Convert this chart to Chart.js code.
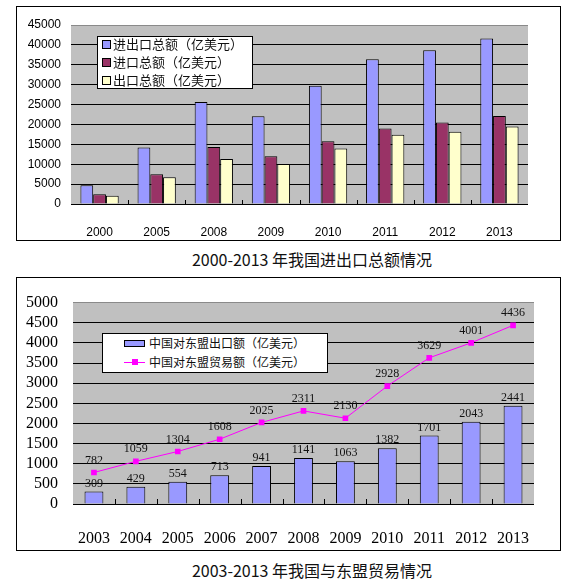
<!DOCTYPE html>
<html>
<head>
<meta charset="utf-8">
<title>进出口与东盟贸易</title>
<script src="https://cdn.jsdelivr.net/npm/chart.js@4.4.0/dist/chart.umd.min.js"></script>
<style>
    body{margin:0;background:#fff;overflow:hidden;}
    #page{position:relative;width:572px;height:585px;}
    .frame{position:absolute;border:1px solid #000;box-sizing:border-box;background:#fff;}
    .frame canvas{position:absolute;left:0;top:0;}
    .title{position:absolute;left:112px;width:400px;text-align:center;
        font:16px "Noto Sans CJK SC",sans-serif;color:#111;line-height:20px;}
    .legend{position:absolute;border:1px solid #000;box-sizing:border-box;background:#fff;
        font-family:"Noto Sans CJK SC",sans-serif;color:#111;}
    .legend .txt{position:absolute;white-space:nowrap;}
    .legend .sw{position:absolute;box-sizing:border-box;border:1px solid #000;}
    .legend .ln{position:absolute;height:1px;background:#ff00ff;}
    .legend .mk{position:absolute;width:6px;height:6px;background:#ff00ff;}
</style>
</head>
<body>
<div id="page">

    <div class="frame" style="left:16px;top:6px;width:545px;height:235px;">
        <canvas id="trade-chart" width="543" height="233"></canvas>
    </div>

    <div class="legend" style="left:97px;top:36px;width:156px;height:53px;font-size:13px;">
        <div class="sw" style="left:4px;top:3px;width:9px;height:9px;background:#9999ff;"></div>
        <div class="txt" style="left:15px;top:-1px;line-height:16px;">进出口总额（亿美元）</div>
        <div class="sw" style="left:4px;top:21px;width:9px;height:9px;background:#993366;"></div>
        <div class="txt" style="left:15px;top:17px;line-height:16px;">进口总额（亿美元）</div>
        <div class="sw" style="left:4px;top:39px;width:9px;height:9px;background:#ffffcc;"></div>
        <div class="txt" style="left:15px;top:35px;line-height:16px;">出口总额（亿美元）</div>
    </div>

    <div class="title" style="top:249px;">2000-2013 年我国进出口总额情况</div>

    <div class="frame" style="left:16px;top:277px;width:545px;height:274px;">
        <canvas id="asean-chart" width="543" height="272"></canvas>
    </div>

    <div class="legend" style="left:102px;top:333px;width:226px;height:40px;font-size:12px;">
        <div class="sw" style="left:21px;top:6px;width:21px;height:7px;background:#9999ff;"></div>
        <div class="txt" style="left:46px;top:1px;line-height:16px;">中国对东盟出口额（亿美元）</div>
        <div class="ln" style="left:21px;top:28px;width:21px;"></div>
        <div class="mk" style="left:29px;top:25px;"></div>
        <div class="txt" style="left:46px;top:20px;line-height:16px;">中国对东盟贸易额（亿美元）</div>
    </div>

    <div class="title" style="top:560px;">2003-2013 年我国与东盟贸易情况</div>

</div>

<script>

// 上图：进出口总额（亿美元）
const tradeYears = ["2000", "2005", "2008", "2009", "2010", "2011", "2012", "2013"];
const totalTrade = [4743, 14219, 25616, 22075, 29740, 36421, 38671, 41600];
const importTotal = [2450, 7450, 14307, 12016, 15778, 18986, 20489, 22100];
const exportTotal = [2100, 6700, 11326, 10059, 13962, 17435, 18178, 19500];
const tradeMax = 45000;
const tradeStep = 5000;

// 下图：中国与东盟（亿美元）
const aseanYears = ["2003", "2004", "2005", "2006", "2007", "2008", "2009", "2010", "2011", "2012", "2013"];
const aseanExport = [309, 429, 554, 713, 941, 1141, 1063, 1382, 1701, 2043, 2441];
const aseanTrade = [782, 1059, 1304, 1608, 2025, 2311, 2130, 2928, 3629, 4001, 4436];
const aseanMax = 5000;
const aseanStep = 500;


/**
 * 绘图区灰色背景
 */
const plotBg = {
    id: "plotBg",
    beforeDraw(chart){
        const a = chart.chartArea;
        const ctx = chart.ctx;
        ctx.save();
        ctx.fillStyle = "#c0c0c0";
        ctx.fillRect(a.left, a.top, a.right - a.left, a.bottom - a.top);
        ctx.restore();
    }
};


/**
 * 分类之间向上的小刻度线
 */
const innerTicks = {
    id: "innerTicks",
    afterDatasetsDraw(chart, args, opts){
        const x = chart.scales.x;
        const n = chart.data.labels.length;
        const half = (x.getPixelForValue(1) - x.getPixelForValue(0)) / 2;
        const bottom = chart.chartArea.bottom;
        const ctx = chart.ctx;
        ctx.save();
        ctx.strokeStyle = "#000";
        ctx.lineWidth = 1;
        ctx.beginPath();
        for(let i = 1; i < n; i++){
            const px = Math.round(x.getPixelForValue(i) - half) + 0.5;
            ctx.moveTo(px, bottom);
            ctx.lineTo(px, bottom - opts.len);
        }
        ctx.stroke();
        ctx.restore();
    }
};


/**
 * 数据标签
 */
const valueLabels = {
    id: "valueLabels",
    afterDatasetsDraw(chart){
        const ctx = chart.ctx;
        ctx.save();
        ctx.fillStyle = "#111";
        ctx.font = "12px 'Liberation Serif'";
        ctx.textAlign = "center";
        ctx.textBaseline = "bottom";
        chart.data.datasets.forEach((ds, di) => {
            const meta = chart.getDatasetMeta(di);
            const gap = meta.type === "line" ? 6 : 2;
            meta.data.forEach((el, i) => {
                ctx.fillText(String(ds.data[i]), el.x, el.y - gap);
            });
        });
        ctx.restore();
    }
};


const TradeChart = {

    instance: null,

    init(){

        const canvas = document.getElementById("trade-chart");

        this.instance = new Chart(canvas, {

            type: "bar",

            data: {
                labels: tradeYears,
                datasets: [
                    {label: "进出口总额（亿美元）", data: totalTrade, backgroundColor: "#9999ff"},
                    {label: "进口总额（亿美元）", data: importTotal, backgroundColor: "#993366"},
                    {label: "出口总额（亿美元）", data: exportTotal, backgroundColor: "#ffffcc"}
                ]
            },

            options: {
                responsive: false,
                animation: false,
                layout: {padding: {left: 0, right: 32, top: 18, bottom: 0}},
                datasets: {
                    bar: {
                        categoryPercentage: 0.67,
                        barPercentage: 1.0,
                        borderColor: "#000",
                        borderWidth: 1
                    }
                },
                scales: {
                    x: {
                        grid: {display: false},
                        border: {display: false},
                        ticks: {color: "#000", font: {family: "Liberation Sans", size: 12}, padding: 13},
                        afterFit(s){ s.height = 36; }
                    },
                    y: {
                        min: 0,
                        max: tradeMax,
                        grid: {
                            color: c => c.tick && c.tick.value === tradeMax ? "#8a8a8a" : "#000",
                            drawTicks: false
                        },
                        border: {display: false},
                        ticks: {
                            stepSize: tradeStep,
                            autoSkip: false,
                            callback: v => String(v),
                            color: "#000",
                            font: {family: "Liberation Sans", size: 12},
                            padding: 10
                        },
                        afterFit(s){ s.width = 54; }
                    }
                },
                plugins: {
                    legend: {display: false},
                    tooltip: {enabled: false},
                    innerTicks: {len: 4}
                }
            },

            plugins: [plotBg, innerTicks]
        });
    }
};


const AseanChart = {

    instance: null,

    init(){

        const canvas = document.getElementById("asean-chart");

        this.instance = new Chart(canvas, {

            type: "bar",

            data: {
                labels: aseanYears,
                datasets: [
                    {
                        type: "line",
                        label: "中国对东盟贸易额（亿美元）",
                        data: aseanTrade,
                        borderColor: "#ff00ff",
                        borderWidth: 1,
                        pointStyle: "rect",
                        pointRadius: 4,
                        pointBackgroundColor: "#ff00ff",
                        pointBorderWidth: 0,
                        order: 0
                    },
                    {
                        label: "中国对东盟出口额（亿美元）",
                        data: aseanExport,
                        backgroundColor: "#9999ff",
                        borderColor: "#000",
                        borderWidth: 1,
                        categoryPercentage: 0.45,
                        barPercentage: 1.0,
                        order: 1
                    }
                ]
            },

            options: {
                responsive: false,
                animation: false,
                layout: {padding: {left: 0, right: 26, top: 19, bottom: 0}},
                scales: {
                    x: {
                        grid: {display: false, offset: true},
                        border: {display: false},
                        ticks: {color: "#000", font: {family: "Liberation Serif", size: 16}, padding: 17},
                        afterFit(s){ s.height = 46; }
                    },
                    y: {
                        min: 0,
                        max: aseanMax,
                        grid: {
                            color: c => c.tick && c.tick.value === aseanMax ? "#8a8a8a" : "#000",
                            drawTicks: false
                        },
                        border: {display: false},
                        ticks: {
                            stepSize: aseanStep,
                            autoSkip: false,
                            callback: v => String(v),
                            color: "#000",
                            font: {family: "Liberation Serif", size: 16},
                            padding: 15
                        },
                        afterFit(s){ s.width = 56; }
                    }
                },
                plugins: {
                    legend: {display: false},
                    tooltip: {enabled: false},
                    innerTicks: {len: 5}
                }
            },

            plugins: [plotBg, innerTicks, valueLabels]
        });
    }
};


TradeChart.init();
AseanChart.init();

</script>
</body>
</html>
